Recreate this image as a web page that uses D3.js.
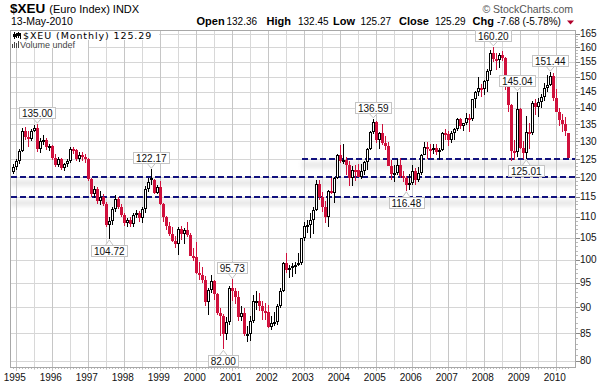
<!DOCTYPE html>
<html><head><meta charset="utf-8">
<script src="https://cdn.jsdelivr.net/npm/d3@7"></script>
<style>body{margin:0;background:#fff}svg{display:block}</style>
</head><body>
<svg id="c" width="608" height="383"></svg>
<script>
// ---- DATA (monthly candles, Dec 1994 .. May 2010) ----
const firstMonth = [1994, 11]; // Dec 1994
const opens = [121.5,
 122.8,124.3,127.2,133.1,131.2,130.6,133.0,134.0,127.8,130.1,130.4,128.3,
 128.6,125.2,123.4,125.0,122.4,123.5,124.4,127.8,127.4,124.9,126.2,125.5,
 124.9,119.5,115.6,117.0,113.8,115.0,113.0,108.0,109.0,112.0,114.5,112.4,
 110.5,108.4,109.2,108.3,110.4,110.8,109.6,111.9,116.9,119.8,119.2,116.0,
 117.4,113.1,109.8,107.7,105.9,104.3,103.5,107.1,105.8,106.8,105.6,100.9,
 100.6,97.1,96.6,95.7,91.1,93.5,95.4,92.6,88.9,88.3,84.9,87.1,
 93.9,93.3,92.1,88.0,88.9,84.8,84.9,87.4,91.2,91.3,90.3,89.2,
 89.1,86.1,86.9,87.2,90.2,93.4,99.3,97.8,98.1,98.6,98.9,99.3,
 104.9,107.7,107.9,109.1,111.7,118.3,115.0,112.4,109.9,116.4,116.0,119.9,
 126.0,124.4,124.8,123.2,119.7,122.0,121.9,120.2,121.8,124.2,127.7,132.7,
 135.6,130.4,132.4,129.6,128.7,123.1,121.0,121.2,123.4,120.4,119.8,117.9,
 118.4,121.6,119.3,121.2,126.2,128.3,127.9,127.7,128.1,126.8,127.6,132.5,
 132.0,130.2,132.3,133.5,136.5,134.5,135.3,136.8,136.4,142.6,144.8,146.3,
 145.9,148.6,151.8,158.1,156.0,155.5,157.4,156.2,146.8,140.9,127.3,127.0,
 139.7,128.0,126.6,132.8,132.5,141.5,140.3,141.8,143.3,146.3,147.3,150.1,
 143.2,138.7,136.3,135.1,132.36];
const highs = [123.6,
 124.9,127.8,133.9,134.2,133.0,133.6,134.6,135.00,131.0,131.7,131.0,129.3,
 128.9,126.5,125.6,125.3,124.0,125.0,128.3,128.4,127.8,126.9,126.8,126.4,
 125.3,119.8,117.8,117.4,116.4,115.6,113.6,109.8,112.5,115.4,115.0,113.2,
 111.0,109.6,110.0,110.8,111.6,111.3,112.3,117.6,119.8,122.17,119.6,117.9,
 119.06,113.4,110.2,108.6,107.5,105.5,107.6,107.8,107.3,108.6,106.0,102.7,
 104.1,99.6,98.3,96.4,94.0,96.6,95.6,92.9,89.9,88.6,88.1,94.3,
 95.73,94.0,93.3,90.2,89.9,86.4,88.2,92.4,93.3,92.8,91.2,90.8,
 90.4,88.2,89.0,90.6,94.0,99.6,101.6,98.9,99.2,99.5,101.4,105.0,
 108.7,109.3,110.8,112.3,119.3,119.3,116.1,114.0,116.6,119.8,120.2,126.4,
 129.0,129.3,125.6,124.3,123.0,123.3,123.7,123.6,124.4,128.0,133.0,136.59,
 135.8,132.8,134.9,131.6,129.9,124.6,123.2,125.0,125.2,121.8,120.4,120.9,
 123.2,122.6,122.8,126.4,129.8,129.8,129.2,129.3,129.1,128.1,132.7,133.7,
 132.9,132.9,134.0,136.8,136.7,135.4,138.5,138.2,142.8,145.3,149.7,147.6,
 149.0,152.4,159.0,160.20,158.0,158.0,158.8,156.6,148.6,141.2,130.2,145.04,
 140.0,130.0,137.4,135.3,142.1,142.6,142.9,144.3,147.9,150.6,151.44,151.1,
 145.8,139.8,138.2,137.1,132.45];
const lows = [120.8,
 122.1,123.6,126.8,130.4,128.2,130.0,132.6,127.0,126.6,128.8,127.6,127.2,
 124.6,122.8,122.9,121.9,121.6,122.9,124.0,126.3,124.3,124.2,124.5,124.0,
 119.0,114.8,114.6,113.2,112.9,112.6,107.6,104.72,107.9,111.2,111.8,109.9,
 107.8,107.6,107.6,107.6,109.6,108.7,108.5,110.8,116.2,117.9,115.7,115.6,
 112.8,108.8,106.7,105.5,104.0,102.6,101.1,104.5,103.5,105.2,100.8,99.7,
 96.8,95.6,94.9,90.3,88.4,92.9,91.5,88.5,84.4,82.00,83.7,86.6,
 91.3,90.6,87.4,87.4,84.4,83.4,83.5,87.0,89.4,89.3,87.5,87.6,
 85.9,85.6,86.4,86.5,89.8,93.0,97.1,96.1,96.3,96.8,98.6,98.8,
 104.3,106.0,104.9,105.9,111.4,114.1,111.1,108.4,107.6,115.6,113.3,119.6,
 123.8,123.6,120.6,117.6,117.6,119.0,120.1,119.5,120.5,121.9,127.6,132.1,
 129.5,127.7,128.9,127.6,123.0,119.2,118.7,120.7,119.9,118.7,116.48,116.8,
 118.0,118.1,118.7,120.7,126.0,124.9,125.2,126.3,126.2,124.8,127.3,130.4,
 128.7,129.5,130.3,133.1,133.7,133.1,134.8,132.6,135.8,140.0,143.7,143.4,
 143.9,144.9,150.5,154.8,152.2,152.8,155.3,145.6,138.7,124.3,124.6,125.4,
 127.8,125.1,125.01,127.9,131.8,137.8,137.1,139.9,142.0,144.8,146.9,142.0,
 138.6,134.4,132.7,131.4,125.27];
const closes = [122.8,
 124.3,127.2,133.1,131.2,130.6,133.0,134.0,127.8,130.1,130.4,128.3,128.6,
 125.2,123.4,125.0,122.4,123.5,124.4,127.8,127.4,124.9,126.2,125.5,124.9,
 119.5,115.6,117.0,113.8,115.0,113.0,108.0,109.0,112.0,114.5,112.4,110.5,
 108.4,109.2,108.3,110.4,110.8,109.6,111.9,116.9,118.9,119.2,116.0,117.4,
 113.1,109.8,107.7,105.9,104.3,103.5,107.1,105.8,106.8,105.6,100.9,100.6,
 97.1,96.6,95.7,91.1,93.5,95.4,92.6,88.9,88.3,84.9,87.1,93.9,
 93.3,92.1,88.0,88.9,84.8,84.9,87.4,91.2,91.3,90.3,89.2,89.1,
 86.1,86.9,87.2,90.2,93.4,99.3,97.8,98.1,98.6,98.9,99.3,104.9,
 107.7,107.9,109.1,111.7,118.3,115.0,112.4,109.9,116.4,116.0,119.9,126.0,
 124.4,124.8,123.2,119.7,122.0,121.9,120.2,121.8,124.2,127.7,132.7,135.6,
 130.4,132.4,129.6,128.7,123.1,121.0,121.2,123.4,120.4,119.8,117.9,118.4,
 121.6,119.3,121.2,126.2,128.3,127.9,127.7,128.1,126.8,127.6,132.5,132.0,
 130.2,132.3,133.5,136.5,134.5,135.3,136.8,136.4,142.6,144.8,146.3,145.9,
 148.6,151.8,158.1,156.0,155.5,157.4,156.2,146.8,140.9,127.3,127.0,139.7,
 128.0,126.6,132.8,132.5,141.5,140.3,141.8,143.3,146.3,147.3,150.1,143.2,
 138.7,136.3,135.1,132.97,125.29];

const yTicks = [80,85,90,95,100,105,110,115,120,125,130,135,140,145,150,155,160,165];
const yearLabels = ["1995","1996","1997","1998","1999","2000","2001","2002","2003","2004","2005","2006","2007","2008","2009","2010"];
const supportLevels = [125, 120, 115];
const supportFrom = ["2003-01", "1994-12", "1994-12"];
const annotMonths = ["1995-08","1997-08","1998-10","2000-10","2001-01","2004-12","2005-11","2008-04","2008-12","2009-03","2009-11"];
const annotKind   = ["high","low","high","low","high","high","low","high","high","low","high"];

// ---- SETUP ----
const fmt = d3.timeFormat("%Y-%m");
const months = d3.timeMonth.range(new Date(firstMonth[0], firstMonth[1], 1), new Date(2010, 5, 1)).map(fmt);
const svg = d3.select("#c");
const FX0 = 10.5, FX1 = 575.5, FY0 = 30.5, FY1 = 367.5;
const x = d3.scalePoint().domain(months).range([13.3, 568.3]);
const y = d3.scaleLog().domain([80, 165]).range([360.5, 33.5]);
const RED = "#d0103c";
const sans = "Liberation Sans, Arial, sans-serif";

const defs = svg.append("defs");
defs.append("filter").attr("id","blur").attr("x","-5%").attr("y","-200%").attr("width","110%").attr("height","500%")
  .append("feGaussianBlur").attr("stdDeviation", 2);
defs.append("clipPath").attr("id","plot").append("rect")
  .attr("x",FX0).attr("y",FY0).attr("width",FX1-FX0).attr("height",FY1-FY0);

// ---- GRID ----
const grid = svg.append("g").attr("shape-rendering","crispEdges");
yTicks.forEach(v => {
  const yy = Math.round(y(v)) + 0.5;
  grid.append("line").attr("x1",FX0).attr("x2",FX1).attr("y1",yy).attr("y2",yy)
    .attr("stroke","#d6d6d6");
});
months.forEach(m => {
  const mo = +m.slice(5);
  if (mo === 1 || mo === 7) {
    const xx = Math.round(x(m)) + 0.5;
    grid.append("line").attr("x1",xx).attr("x2",xx).attr("y1",FY0).attr("y2",FY1 + (mo===1?3:2))
      .attr("stroke", mo === 1 ? "#c6c6c6" : "#d8d8d8");
  }
});

// ---- SUPPORT LINES (with soft shadow) ----
const sup = svg.append("g").attr("clip-path","url(#plot)");
supportLevels.forEach((v,k) => {
  const yy = Math.round(y(v));
  const xs = Math.round(x(supportFrom[k])) - 2;
  sup.append("rect").attr("x",xs).attr("y",yy+3).attr("width",FX1-xs).attr("height",6)
    .attr("fill","#c4c4c4").attr("opacity",0.4).attr("filter","url(#blur)");
});

// ---- CANDLES ----
const cg = svg.append("g").attr("shape-rendering","crispEdges");
months.forEach((m,k) => {
  const o = opens[k], h = highs[k], l = lows[k], c = closes[k];
  const prev = k > 0 ? closes[k-1] : o;
  const col = c >= prev ? "#000" : RED;
  const cx = Math.round(x(m));
  const yh = Math.round(y(h)), yl = Math.round(y(l));
  cg.append("rect").attr("x",cx).attr("y",yh).attr("width",1).attr("height",Math.max(1,yl-yh)).attr("fill",col);
  const yt = Math.round(y(Math.max(o,c))), yb = Math.round(y(Math.min(o,c)));
  const bh = Math.max(2, yb - yt);
  cg.append("rect").attr("x",cx-1).attr("y",yt).attr("width",3).attr("height",bh).attr("fill",col);
  if (c >= o && bh > 2) {
    cg.append("rect").attr("x",cx).attr("y",yt+1).attr("width",1).attr("height",bh-2).attr("fill","#fff");
  }
});

supportLevels.forEach((v,k) => {
  const yy = Math.round(y(v));
  const xs = Math.round(x(supportFrom[k])) - 2;
  sup.append("line").attr("x1",xs).attr("x2",FX1).attr("y1",yy).attr("y2",yy)
    .attr("stroke","#12127e").attr("stroke-width",2).attr("stroke-dasharray","6,3");
});

// ---- FRAME & AXES ----
svg.append("rect").attr("x",FX0).attr("y",FY0).attr("width",FX1-FX0).attr("height",FY1-FY0)
  .attr("fill","none").attr("stroke","#a8a8a8").attr("shape-rendering","crispEdges");
const ax = svg.append("g").attr("shape-rendering","crispEdges");
for (let v = 80; v <= 165; v++) {
  const yy = Math.round(y(v)) + 0.5;
  ax.append("line").attr("x1",FX1).attr("x2",FX1 + (v % 5 === 0 ? 4 : 2)).attr("y1",yy).attr("y2",yy)
    .attr("stroke", v % 5 === 0 ? "#888" : "#bbb");
}
yTicks.forEach(v => {
  svg.append("text").attr("x",580).attr("y",y(v)).attr("dy","0.36em")
    .attr("font-family",sans).attr("font-size",10).attr("fill","#111").text(v);
});
yearLabels.forEach(yr => {
  const m = yr + "-01";
  svg.append("text").attr("x",x(m) - 1.5).attr("y",381).attr("text-anchor","middle")
    .attr("font-family",sans).attr("font-size",10).attr("fill","#111").text(yr);
});
months.forEach(m => {
  const xx = Math.round(x(m)) + 0.5;
  ax.append("line").attr("x1",xx).attr("x2",xx).attr("y1",FY1).attr("y2",FY1+1.5).attr("stroke","#bbb");
});

// ---- ANNOTATIONS ----
annotMonths.forEach((m,k) => {
  const idx = months.indexOf(m);
  const val = annotKind[k] === "high" ? highs[idx] : lows[idx];
  const px = x(m), py = y(val);
  const g = svg.append("g");
  const t = g.append("text").attr("font-family",sans).attr("font-size",10).attr("fill","#111")
    .attr("text-anchor","middle").text(val.toFixed(2));
  const tw = t.node().getComputedTextLength();
  const w = Math.round(tw + 5), h = 11;
  const bx = Math.round(px - w/2) + 0.5;
  let by, tipY, baseY;
  if (annotKind[k] === "high") { by = Math.round(py - 6 - h) + 0.5; baseY = by + h; tipY = py - 1; }
  else { by = Math.round(py + 6) + 0.5; baseY = by; tipY = py + 1; }
  g.insert("path","text").attr("d",`M${px-4},${baseY} L${px},${tipY} L${px+4},${baseY}`)
    .attr("fill","#fff").attr("stroke","#c4c4c4");
  g.insert("rect","text").attr("x",bx).attr("y",by).attr("width",w).attr("height",h)
    .attr("fill","#fff").attr("stroke","#c4c4c4");
  t.attr("x",px).attr("y",by + h - 2);
});

// ---- LEGEND inside chart ----
svg.append("rect").attr("x",11).attr("y",31).attr("width",148).attr("height",9).attr("fill","#fff");
svg.append("rect").attr("x",11).attr("y",40).attr("width",77).attr("height",8).attr("fill","#fff");
const lg = svg.append("g").attr("shape-rendering","crispEdges");
[[14,32,39],[16,33,38],[18,32,38],[20,33,39]].forEach(d => {
  lg.append("rect").attr("x",d[0]).attr("y",d[1]).attr("width",1).attr("height",d[2]-d[1]).attr("fill","#000");
});
lg.append("rect").attr("x",13).attr("y",34).attr("width",3).attr("height",3).attr("fill","#000");
lg.append("rect").attr("x",17).attr("y",33).attr("width",3).attr("height",3).attr("fill","#000");
[[12,44],[14,42],[16,43],[18,41]].forEach(d => {
  lg.append("rect").attr("x",d[0]).attr("y",d[1]).attr("width",1).attr("height",48-d[1]).attr("fill","#444");
});
svg.append("text").attr("x",23).attr("y",38.5).attr("font-family","DejaVu Sans, Verdana, sans-serif")
  .attr("font-size",9.5).attr("letter-spacing",0.9).attr("fill","#000").text("$XEU (Monthly) 125.29");
svg.append("text").attr("x",20).attr("y",48).attr("font-family",sans)
  .attr("font-size",9).attr("fill","#444").text("Volume undef");

// ---- HEADER ----
const title = svg.append("text").attr("x",10).attr("y",13).attr("font-family",sans).attr("fill","#000");
title.append("tspan").attr("font-size",13.5).attr("font-weight","bold").text("$XEU");
title.append("tspan").attr("font-size",11).attr("dx",4).text("(Euro Index) INDX");
svg.append("text").attr("x",11).attr("y",25).attr("font-family",sans).attr("font-size",10.5).attr("fill","#000").text("13-May-2010");
svg.append("text").attr("x",573).attr("y",12.5).attr("text-anchor","end").attr("font-family",sans)
  .attr("font-size",10.5).attr("fill","#555").text("\u00A9 StockCharts.com");
const hdr = [["Open",196.5,true],["132.36",226.5,false],["High",266.5,true],["132.45",298,false],
             ["Low",333,true],["125.27",360.5,false],["Close",399,true],["125.29",435,false],
             ["Chg",472.5,true],["-7.68 (-5.78%)",497,false]];
hdr.forEach(d => {
  svg.append("text").attr("x",d[1]).attr("y",25).attr("font-family",sans)
    .attr("font-size", d[2] ? 11 : 10).attr("font-weight", d[2] ? "bold" : "normal")
    .attr("fill","#000").text(d[0]);
});
svg.append("path").attr("d","M567,20.5 L574,20.5 L570.5,24.5 Z").attr("fill","#b0002a");
</script>
</body></html>
